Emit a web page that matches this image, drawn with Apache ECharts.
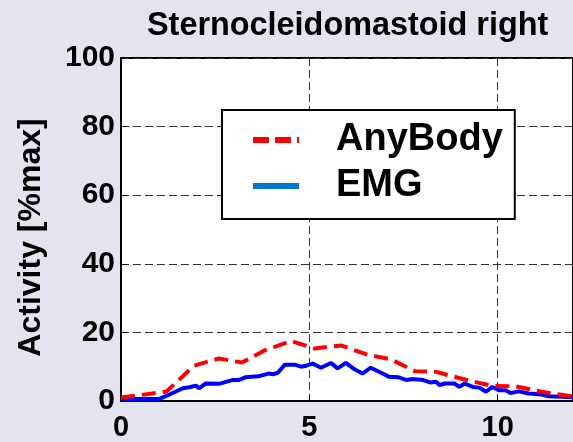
<!DOCTYPE html>
<html>
<head>
<meta charset="utf-8">
<script src="https://cdn.jsdelivr.net/npm/echarts@6/dist/echarts.min.js"></script>
<style>
html,body{margin:0;padding:0;background:#e4e4ee;}
#chart{width:573px;height:442px;}
</style>
</head>
<body>
<div id="chart"></div>
<script>
var titleText = 'Sternocleidomastoid right';
var yAxisName = 'Activity [%max]';
var seriesNames = ['AnyBody', 'EMG'];

var anyX = [0, 1.2, 1.94, 2.6, 3.21, 3.82, 4.52, 5.14, 5.84, 6.54, 7.15, 7.8, 8.37, 9.07, 9.86, 10.47, 11.17, 12];
var anyY = [1.0, 2.7, 10.3, 12.4, 11.2, 14.8, 17.5, 15.3, 16.2, 13.5, 12.2, 8.7, 8.5, 6.4, 4.4, 4.3, 2.7, 1.3];

var emgX = [0, 1.02, 1.29, 1.64, 1.81, 1.99, 2.07, 2.25, 2.6, 2.95, 3.12, 3.3, 3.65, 3.91, 4.04, 4.17, 4.35, 4.61, 4.78, 4.92,
            5.09, 5.31, 5.57, 5.75, 5.97, 6.19, 6.41, 6.63, 6.89, 7.11, 7.37, 7.59, 7.72, 8.03, 8.2, 8.37, 8.46, 8.59, 8.85, 8.98,
            9.12, 9.34, 9.51, 9.69, 9.86, 10.04, 10.21, 10.34, 10.56, 10.82, 11.17, 11.35, 11.86, 12];
var emgY = [0.6, 0.6, 1.9, 3.7, 4.0, 4.5, 3.7, 5.1, 5.0, 6.1, 6.1, 6.9, 7.2, 8.0, 7.8, 8.3, 10.6, 10.6, 10.0, 10.3,
            10.9, 9.7, 11.1, 9.5, 11.1, 9.3, 8.0, 9.7, 8.3, 7.1, 6.9, 6.1, 6.4, 6.1, 5.4, 5.6, 4.6, 5.1, 5.1, 4.1,
            5.1, 4.1, 3.9, 2.7, 4.1, 3.1, 3.1, 2.3, 2.8, 2.2, 1.9, 1.4, 1.2, 1.1];

var xTicks = {min: 0, max: 12, interval: 5};
var yTicks = {min: 0, max: 100, interval: 20};

function pairs(xs, ys) { return xs.map(function (x, i) { return [x, ys[i]]; }); }

var font = 'Liberation Sans, Arial, Helvetica, sans-serif';
var hiddenSymbol = {color: 'rgba(0,0,0,0)', borderWidth: 0, opacity: 0};
var chart = echarts.init(document.getElementById('chart'), null, {renderer: 'canvas'});
chart.setOption({
  backgroundColor: '#e4e4ee',
  animation: false,
  title: {
    text: titleText,
    left: 147,
    top: 10,
    padding: 0,
    textStyle: {fontFamily: font, fontWeight: 'bold', fontSize: 32.4, color: '#000'}
  },
  grid: {
    left: 121, top: 58, width: 457, height: 345,
    show: true, backgroundColor: '#ffffff', borderColor: '#000', borderWidth: 2
  },
  legend: {
    orient: 'vertical',
    left: 222, top: 110,
    padding: [11, 12, 14, 28],
    itemGap: 8,
    itemWidth: 46, itemHeight: 14,
    backgroundColor: '#ffffff',
    borderColor: '#000', borderWidth: 2,
    textStyle: {fontFamily: font, fontWeight: 'bold', fontSize: 38, lineHeight: 38, color: '#000', padding: [0, 0, 0, 32]},
    data: [
      {name: seriesNames[0], itemStyle: hiddenSymbol, lineStyle: {color: '#ff0000', width: 6, type: [16, 6]}},
      {name: seriesNames[1], itemStyle: hiddenSymbol, lineStyle: {color: '#0077d0', width: 6, type: 'solid'}}
    ]
  },
  xAxis: {
    type: 'value',
    min: xTicks.min, max: xTicks.max, interval: xTicks.interval,
    axisLine: {show: true, lineStyle: {color: '#000', width: 2}},
    axisTick: {show: true, inside: true, length: 6, lineStyle: {color: '#000'}},
    axisLabel: {showMaxLabel: false, margin: 12, fontFamily: font, fontWeight: 'bold', fontSize: 29, color: '#000'},
    splitLine: {show: true, lineStyle: {color: '#333', width: 1, type: [8, 4]}}
  },
  yAxis: {
    type: 'value',
    min: yTicks.min, max: yTicks.max, interval: yTicks.interval,
    name: yAxisName,
    nameLocation: 'middle',
    nameRotate: 90,
    nameGap: 74,
    nameTextStyle: {fontFamily: font, fontWeight: 'bold', fontSize: 32, color: '#000', padding: [0, 16, 0, 0]},
    axisLine: {show: true, lineStyle: {color: '#000', width: 2}},
    axisTick: {show: true, inside: true, length: 6, lineStyle: {color: '#000'}},
    axisLabel: {margin: 6, fontFamily: font, fontWeight: 'bold', fontSize: 30, color: '#000'},
    splitLine: {show: true, lineStyle: {color: '#333', width: 1, type: [8, 4]}}
  },
  series: [
    {
      name: seriesNames[0], type: 'line', data: pairs(anyX, anyY),
      symbol: 'none', smooth: false, z: 3,
      lineStyle: {color: '#ff0000', width: 4, type: [14, 7]},
      itemStyle: {color: '#ff0000'}
    },
    {
      name: seriesNames[1], type: 'line', data: pairs(emgX, emgY),
      symbol: 'none', smooth: false, z: 2,
      lineStyle: {color: '#0000ff', width: 4},
      itemStyle: {color: '#0077d0'}
    }
  ]
});
</script>
</body>
</html>
